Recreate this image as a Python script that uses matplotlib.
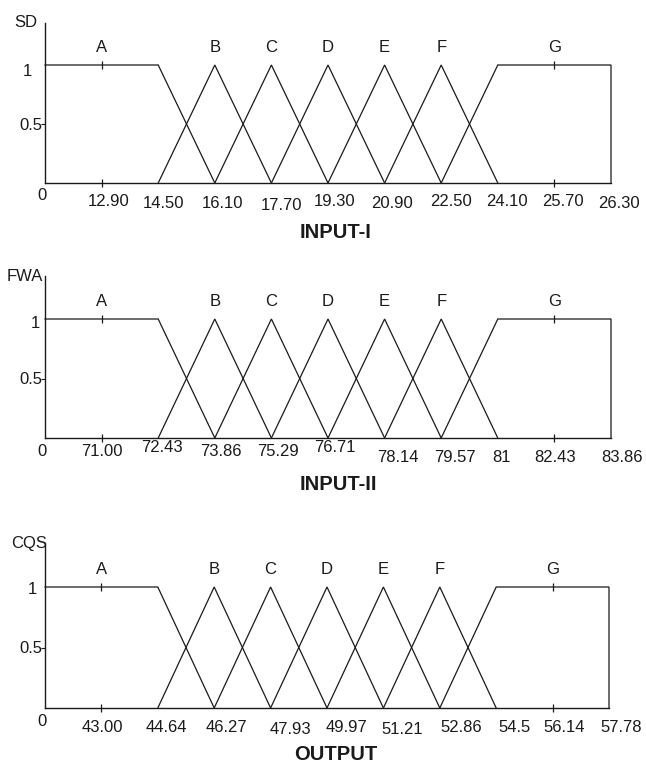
import matplotlib
matplotlib.use("Agg")
import matplotlib.pyplot as plt
from matplotlib.transforms import ScaledTranslation

# ---------------- data ----------------
set_names = ["A", "B", "C", "D", "E", "F", "G"]
# membership breakpoints on the (evenly spaced) label index scale 0..10
set_x = [[0, 2, 3], [2, 3, 4], [3, 4, 5], [4, 5, 6], [5, 6, 7], [6, 7, 8], [7, 8, 10, 10]]
set_mu = [[1, 1, 0], [0, 1, 0], [0, 1, 0], [0, 1, 0], [0, 1, 0], [0, 1, 0], [0, 1, 1, 0]]
label_pos = [1, 3, 4, 5, 6, 7, 9]

tick_pos = [1, 2, 3, 4, 5, 6, 7, 8, 9, 10]
ticks_sd = ["12.90", "14.50", "16.10", "17.70", "19.30", "20.90", "22.50", "24.10", "25.70", "26.30"]
ticks_fwa = ["71.00", "72.43", "73.86", "75.29", "76.71", "78.14", "79.57", "81", "82.43", "83.86"]
ticks_cqs = ["43.00", "44.64", "46.27", "47.93", "49.97", "51.21", "52.86", "54.5", "56.14", "57.78"]

var_names = ["SD", "FWA", "CQS"]
titles = ["INPUT-I", "INPUT-II", "OUTPUT"]
y_ticks = [1, 0.5]
y_tick_labels = ["1", "0.5"]

# ---------------- layout / style ----------------
W, H, DPI = 646, 762, 100
YTOP = 1.36
# (left px, right px, zero-line px from top, px per unit)
panels_px = [(45, 611, 183, 118), (45, 611, 438, 119), (45, 609, 708, 121)]
tick_dx = [[7, 5, 8, 10, 7, 7, 10, 9, 9, 8],
           [0, 4, 6, 7, 7, 13, 14, 4, 1, 11],
           [1, 9, 12, 20, 20, 19, 21, 18, 12, 12]]
tick_dy = [[18, 21, 20, 22, 19, 21, 18, 18, 19, 20],
           [13, 10, 14, 14, 10, 20, 20, 20, 20, 20],
           [20, 20, 19, 22, 19, 22, 19, 19, 19, 20]]
name_dx = [-8, -2, 2]
title_off = [(8, 49), (10, 47), (9, 46)]
one_dx = [-13, -5, -8]
one_dy = [6, 4, 2]

plt.rcParams["font.family"] = ["Liberation Sans", "DejaVu Sans"]
LC = "#1a1a1a"

fig = plt.figure(figsize=(W / DPI, H / DPI), dpi=DPI)
ticksets = [ticks_sd, ticks_fwa, ticks_cqs]


def off(ax, dx, dy):
    return ScaledTranslation(dx / DPI, -dy / DPI, fig.dpi_scale_trans)


for k, (l, r, z, u) in enumerate(panels_px):
    top = z - YTOP * u
    ax = fig.add_axes([l / W, 1 - z / H, (r - l) / W, (z - top) / H])
    ax.set_xlim(0, 10)
    ax.set_ylim(0, YTOP)
    for s in ["top", "right"]:
        ax.spines[s].set_visible(False)
    for s in ["left", "bottom"]:
        ax.spines[s].set_color(LC)
        ax.spines[s].set_linewidth(1.0)
    ax.set_xticks([])
    ax.set_yticks([0.5])
    ax.set_yticklabels([])
    ax.tick_params(axis="y", length=3, width=0.8, color=LC)

    # membership functions
    for xs, ms in zip(set_x, set_mu):
        ax.plot(xs, ms, color=LC, lw=0.9, solid_joinstyle="miter", clip_on=False)

    # small ticks on plateau centers of A and G
    for p in (label_pos[0], label_pos[-1]):
        ax.plot([p, p], [0, 1], ls="none", marker="|", ms=6, mew=0.9, color=LC, clip_on=False)

    # set names
    for name, p in zip(set_names, label_pos):
        ax.text(p, 1, name, ha="center", va="center", fontsize=12, color=LC,
                transform=ax.transData + off(ax, 0, -17))

    # x tick labels
    for i, (p, t) in enumerate(zip(tick_pos, ticksets[k])):
        ax.text(p, 0, t, ha="center", va="center", fontsize=12, color=LC,
                transform=ax.transData + off(ax, tick_dx[k][i], tick_dy[k][i]))

    # y labels
    ax.text(0, 1, y_tick_labels[0], ha="right", va="center", fontsize=12, color=LC,
            transform=ax.transData + off(ax, one_dx[k], one_dy[k]))
    ax.text(0, 0.5, y_tick_labels[1], ha="right", va="center", fontsize=12, color=LC,
            transform=ax.transData + off(ax, -3, 1))
    ax.text(0, 0, "0", ha="center", va="center", fontsize=12, color=LC,
            transform=ax.transData + off(ax, -3, 13))

    # variable name at top of axis
    ax.text(0, YTOP, var_names[k], ha="right", va="center", fontsize=12, color=LC,
            transform=ax.transData + off(ax, name_dx[k], 0))

    # title
    ax.text(0.5, 0, titles[k], ha="center", va="center", fontsize=14.5, fontweight="bold",
            color=LC, transform=ax.transAxes + off(ax, title_off[k][0], title_off[k][1]))

fig.savefig("out.png", dpi=DPI)
